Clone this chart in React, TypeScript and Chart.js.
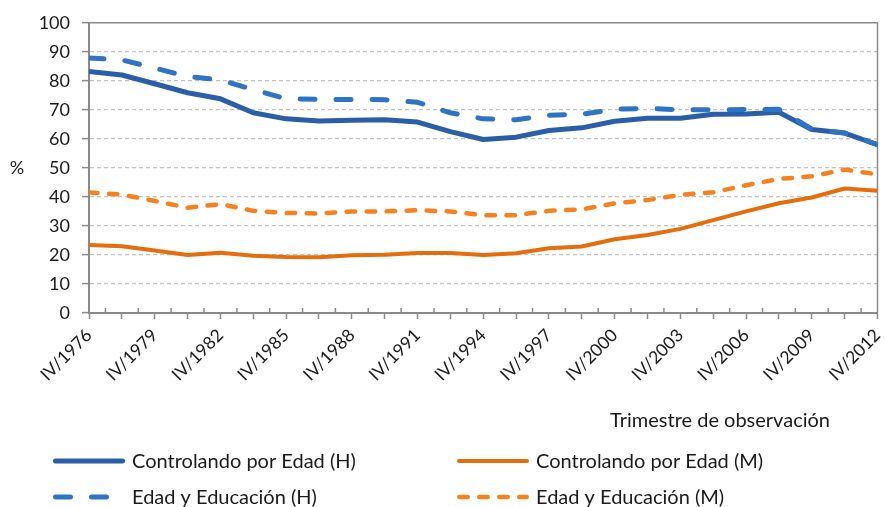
import React, { useEffect, useRef } from "react";
import { Chart, registerables } from "chart.js";

Chart.register(...registerables);

// ---- data ----
const categories = [
  "IV/1976", "II/1978", "IV/1979", "II/1981", "IV/1982", "II/1984", "IV/1985",
  "II/1987", "IV/1988", "II/1990", "IV/1991", "II/1993", "IV/1994", "II/1996",
  "IV/1997", "II/1999", "IV/2000", "II/2002", "IV/2003", "II/2005", "IV/2006",
  "II/2008", "IV/2009", "II/2011", "IV/2012",
];
const seriesNames = [
  "Controlando por Edad (H)",
  "Controlando por Edad (M)",
  "Edad y Educación (H)",
  "Edad y Educación (M)",
];
const controlH = [83.2, 82.0, 79.0, 75.9, 73.8, 69.0, 66.9, 66.2, 66.4, 66.6, 65.8, 62.5, 59.8, 60.6, 62.9, 63.8, 66.1, 67.1, 67.1, 68.5, 68.6, 69.2, 63.2, 62.0, 58.0];
const controlM = [23.4, 23.0, 21.5, 20.0, 20.8, 19.7, 19.3, 19.2, 19.9, 20.1, 20.7, 20.7, 20.0, 20.6, 22.3, 22.9, 25.4, 26.9, 29.0, 32.0, 35.0, 37.8, 39.8, 42.9, 42.1];
const eduH = [87.9, 87.2, 84.4, 81.5, 80.3, 77.0, 73.8, 73.6, 73.6, 73.5, 72.6, 69.0, 66.9, 66.6, 68.1, 68.5, 70.2, 70.5, 70.0, 70.0, 70.1, 70.2, 63.4, 62.0, 58.0];
const eduM = [41.5, 40.8, 38.6, 36.3, 37.5, 35.2, 34.5, 34.3, 35.0, 35.0, 35.4, 35.0, 33.7, 33.7, 35.2, 35.7, 37.8, 38.9, 40.7, 41.6, 44.0, 46.2, 47.1, 49.4, 47.8];
const yTicks = [0, 10, 20, 30, 40, 50, 60, 70, 80, 90, 100];
const yLabel = "%";
const xTitle = "Trimestre de observación";

// ---- styles ----
const FONT = 'Lato, "Noto Sans", sans-serif';
const TEXT = "#1a1a1a";
const AXIS = "#8a8a8a";
const GRID = "#c3c3c3";
const C_BLUE = "#2a5ea6";
const C_BLUE_D = "#2f74c4";
const C_ORANGE = "#e56d0c";
const C_ORANGE_D = "#f5821f";
const STEPS_PER_POINT = 2; // tick units per data point
const TOTAL_UNITS = (categories.length - 1) * STEPS_PER_POINT;

const styles = [
  { color: C_BLUE, width: 5, dash: [] as number[] },
  { color: C_ORANGE, width: 4, dash: [] as number[] },
  { color: C_BLUE_D, width: 5, dash: [15, 21] },
  { color: C_ORANGE_D, width: 4.5, dash: [8.5, 11.5] },
];

const toPoints = (arr: number[]) => arr.map((v, i) => ({ x: i * STEPS_PER_POINT, y: v }));

const labelFor = (v: number) => {
  const idx = v / STEPS_PER_POINT;
  if (Number.isInteger(idx) && idx % 2 === 0 && categories[idx]) return categories[idx];
  return "";
};

const decorPlugin = {
  id: "decor",
  beforeDatasetsDraw(chart: any) {
    const { ctx, chartArea: a, scales } = chart;
    ctx.save();
    ctx.strokeStyle = AXIS;
    ctx.lineWidth = 1.5;
    ctx.beginPath();
    ctx.moveTo(a.left, a.top);
    ctx.lineTo(a.right, a.top);
    ctx.lineTo(a.right, a.bottom);
    ctx.stroke();
    ctx.lineWidth = 1.5;
    ctx.beginPath();
    for (let v = 1; v < TOTAL_UNITS; v += 2) {
      const px = scales.x.getPixelForValue(v);
      ctx.moveTo(px, a.bottom);
      ctx.lineTo(px, a.bottom - 5);
    }
    ctx.stroke();
    ctx.restore();
  },
  afterDraw(chart: any) {
    const { ctx, scales } = chart;
    ctx.save();
    ctx.fillStyle = TEXT;
    ctx.font = `18px ${FONT}`;
    ctx.textAlign = "center";
    ctx.textBaseline = "middle";
    ctx.fillText(yLabel, 17, scales.y.getPixelForValue(50));

    ctx.font = `20px ${FONT}`;
    ctx.textAlign = "right";
    ctx.textBaseline = "alphabetic";
    ctx.fillText(xTitle, 830, 427);

    const pos = [
      { x: 53, y: 461 },
      { x: 457, y: 461 },
      { x: 53, y: 497 },
      { x: 457, y: 497 },
    ];
    seriesNames.forEach((name, i) => {
      const s = styles[i];
      const p = pos[i];
      ctx.save();
      ctx.strokeStyle = s.color;
      ctx.lineWidth = s.width;
      ctx.lineCap = "round";
      ctx.setLineDash(s.dash);
      ctx.beginPath();
      ctx.moveTo(p.x + s.width / 2, p.y);
      ctx.lineTo(p.x + 72 - s.width / 2, p.y);
      ctx.stroke();
      ctx.restore();
      ctx.fillStyle = TEXT;
      ctx.textAlign = "left";
      ctx.textBaseline = "alphabetic";
      ctx.font = `20px ${FONT}`;
      ctx.fillText(name, p.x + 79, p.y + 7);
    });
    ctx.restore();
  },
};

export default function App() {
  const ref = useRef<HTMLCanvasElement | null>(null);
  useEffect(() => {
    document.body.style.margin = "0";
    const canvas = ref.current;
    if (!canvas) return;
    const series = [controlH, controlM, eduH, eduM];
    const datasets = series.map((arr, i) => ({
      label: seriesNames[i],
      data: toPoints(arr),
      borderColor: styles[i].color,
      backgroundColor: styles[i].color,
      borderWidth: styles[i].width,
      borderDash: styles[i].dash,
      borderCapStyle: "round" as const,
      borderJoinStyle: "round" as const,
      pointRadius: 0,
      tension: 0,
      fill: false,
      order: i >= 2 ? 0 : 1,
    }));
    const chart = new Chart(canvas, {
      type: "line",
      data: { datasets },
      options: {
        responsive: false,
        animation: false,
        devicePixelRatio: 1,
        layout: { padding: { top: 22, right: 7.5, bottom: 0, left: 0 } },
        plugins: { legend: { display: false }, tooltip: { enabled: false } },
        scales: {
          x: {
            type: "linear",
            min: 0,
            max: TOTAL_UNITS,
            afterFit: (s: any) => {
              s.height = 507 - 313;
              s.paddingRight = 0;
              s.paddingLeft = 0;
            },
            afterBuildTicks: (s: any) => {
              s.ticks = Array.from({ length: TOTAL_UNITS + 1 }, (_, v) => ({ value: v }));
            },
            ticks: {
              autoSkip: false,
              stepSize: 1,
              minRotation: 45,
              maxRotation: 45,
              padding: 6,
              color: TEXT,
              font: { family: FONT, size: 17.5 },
              callback: (v: any) => labelFor(Number(v)),
            },
            grid: {
              drawOnChartArea: false,
              drawTicks: true,
              tickLength: 6,
              tickWidth: 1.5,
              color: (c: any) => (c.tick && c.tick.value % 2 === 0 ? AXIS : "rgba(0,0,0,0)"),
            },
            border: { display: true, color: AXIS, width: 2 },
          },
          y: {
            min: 0,
            max: 100,
            afterFit: (s: any) => { s.width = 89; },
            afterBuildTicks: (s: any) => { s.ticks = yTicks.map((v) => ({ value: v })); },
            ticks: {
              stepSize: 10,
              padding: 12,
              color: TEXT,
              font: { family: FONT, size: 18 },
            },
            grid: {
              drawOnChartArea: true,
              drawTicks: true,
              tickLength: 7,
              tickWidth: 1.5,
              tickColor: AXIS,
              tickBorderDash: [],
              lineWidth: 1.2,
              color: (c: any) => (c.tick && (c.tick.value === 0 || c.tick.value === 100) ? "rgba(0,0,0,0)" : GRID),
            },
            border: { display: true, color: AXIS, width: 2, dash: [4, 3] },
          },
        },
      },
      plugins: [decorPlugin],
    } as any);
    return () => chart.destroy();
  }, []);
  return <canvas ref={ref} width={885} height={507} style={{ display: "block", width: 885, height: 507 }} />;
}
